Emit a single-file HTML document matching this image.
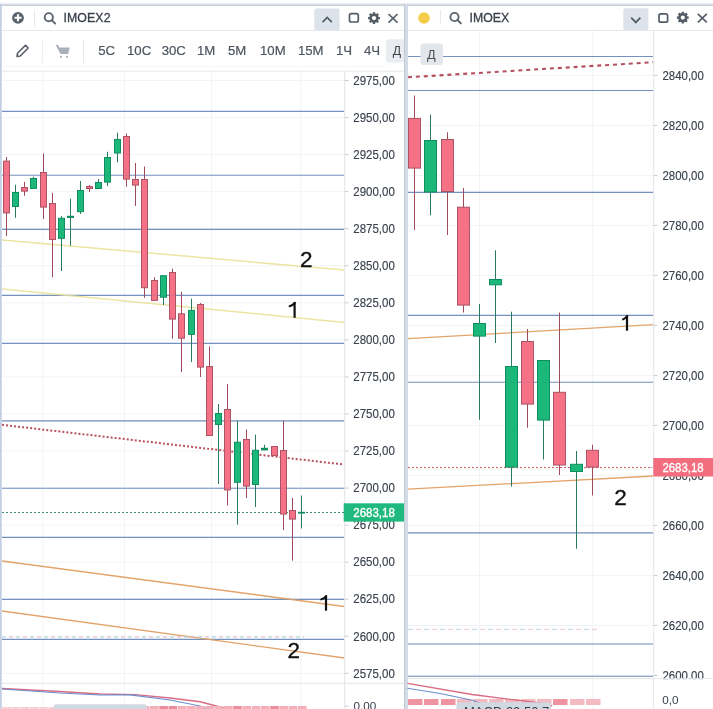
<!DOCTYPE html><html><head><meta charset="utf-8"><style>
html,body{margin:0;padding:0;background:#fff;width:713px;height:709px;overflow:hidden}
svg{display:block;will-change:transform}
text{font-family:"Liberation Sans",sans-serif}
</style></head><body>
<svg width="713" height="709" viewBox="0 0 713 709">
<rect x="0" y="0" width="713" height="709" fill="#fff"/>
<rect x="0" y="3" width="713" height="1" fill="#eceef2"/>
<rect x="0" y="4" width="713" height="1" fill="#d9dee5"/>
<rect x="0" y="5" width="713" height="1" fill="#c9d0d9"/>
<line x1="2" y1="80.5" x2="344.5" y2="80.5" stroke="#f1f3f6" stroke-width="1"/>
<line x1="2" y1="117.55" x2="344.5" y2="117.55" stroke="#f1f3f6" stroke-width="1"/>
<line x1="2" y1="154.6" x2="344.5" y2="154.6" stroke="#f1f3f6" stroke-width="1"/>
<line x1="2" y1="191.64999999999998" x2="344.5" y2="191.64999999999998" stroke="#f1f3f6" stroke-width="1"/>
<line x1="2" y1="228.7" x2="344.5" y2="228.7" stroke="#f1f3f6" stroke-width="1"/>
<line x1="2" y1="265.75" x2="344.5" y2="265.75" stroke="#f1f3f6" stroke-width="1"/>
<line x1="2" y1="302.79999999999995" x2="344.5" y2="302.79999999999995" stroke="#f1f3f6" stroke-width="1"/>
<line x1="2" y1="339.84999999999997" x2="344.5" y2="339.84999999999997" stroke="#f1f3f6" stroke-width="1"/>
<line x1="2" y1="376.9" x2="344.5" y2="376.9" stroke="#f1f3f6" stroke-width="1"/>
<line x1="2" y1="413.95" x2="344.5" y2="413.95" stroke="#f1f3f6" stroke-width="1"/>
<line x1="2" y1="451.0" x2="344.5" y2="451.0" stroke="#f1f3f6" stroke-width="1"/>
<line x1="2" y1="488.04999999999995" x2="344.5" y2="488.04999999999995" stroke="#f1f3f6" stroke-width="1"/>
<line x1="2" y1="525.0999999999999" x2="344.5" y2="525.0999999999999" stroke="#f1f3f6" stroke-width="1"/>
<line x1="2" y1="562.15" x2="344.5" y2="562.15" stroke="#f1f3f6" stroke-width="1"/>
<line x1="2" y1="599.1999999999999" x2="344.5" y2="599.1999999999999" stroke="#f1f3f6" stroke-width="1"/>
<line x1="2" y1="636.25" x2="344.5" y2="636.25" stroke="#f1f3f6" stroke-width="1"/>
<line x1="2" y1="673.3" x2="344.5" y2="673.3" stroke="#f1f3f6" stroke-width="1"/>
<line x1="43" y1="71" x2="43" y2="709" stroke="#f1f3f6" stroke-width="1"/>
<line x1="124.5" y1="71" x2="124.5" y2="709" stroke="#f1f3f6" stroke-width="1"/>
<line x1="211.5" y1="71" x2="211.5" y2="709" stroke="#f1f3f6" stroke-width="1"/>
<line x1="300.7" y1="71" x2="300.7" y2="709" stroke="#f1f3f6" stroke-width="1"/>
<line x1="2" y1="111.3" x2="344.5" y2="111.3" stroke="#7898c6" stroke-width="1.15"/>
<line x1="2" y1="175.2" x2="344.5" y2="175.2" stroke="#7898c6" stroke-width="1.15"/>
<line x1="2" y1="229.4" x2="344.5" y2="229.4" stroke="#7898c6" stroke-width="1.15"/>
<line x1="2" y1="295.3" x2="344.5" y2="295.3" stroke="#7898c6" stroke-width="1.15"/>
<line x1="2" y1="343.4" x2="344.5" y2="343.4" stroke="#7898c6" stroke-width="1.15"/>
<line x1="2" y1="420.8" x2="344.5" y2="420.8" stroke="#7898c6" stroke-width="1.15"/>
<line x1="2" y1="488.2" x2="344.5" y2="488.2" stroke="#7898c6" stroke-width="1.15"/>
<line x1="2" y1="537.4" x2="344.5" y2="537.4" stroke="#7898c6" stroke-width="1.15"/>
<line x1="2" y1="599.3" x2="344.5" y2="599.3" stroke="#7898c6" stroke-width="1.15"/>
<line x1="2" y1="639.4" x2="344.5" y2="639.4" stroke="#7898c6" stroke-width="1.15"/>
<line x1="2" y1="240" x2="344.5" y2="270.1" stroke="#ebe4a2" stroke-width="1.5"/>
<line x1="2" y1="289" x2="344.5" y2="322.4" stroke="#ebe4a2" stroke-width="1.5"/>
<line x1="2" y1="561" x2="344.5" y2="606.5" stroke="#e3a46c" stroke-width="1.3"/>
<line x1="2" y1="611" x2="344.5" y2="658" stroke="#e3a46c" stroke-width="1.3"/>
<line x1="2" y1="637" x2="304" y2="637" stroke="#9fcbd6" stroke-width="1.1" stroke-dasharray="4 10"/>
<line x1="9" y1="637" x2="304" y2="637" stroke="#e2b0c6" stroke-width="1.1" stroke-dasharray="4 10"/>
<line x1="2" y1="424.8" x2="344.5" y2="464.6" stroke="#b9505f" stroke-width="2" stroke-dasharray="2 2.05"/>
<line x1="2" y1="512.5" x2="344.5" y2="512.5" stroke="#3d8a6e" stroke-width="1" stroke-dasharray="2 2"/>
<line x1="6.5" y1="157" x2="6.5" y2="236" stroke="#a04a5c" stroke-width="1"/>
<rect x="3.5" y="161.1" width="6.0" height="51.8" fill="#f47186" stroke="#aa5466" stroke-width="1"/>
<line x1="15.5" y1="184.8" x2="15.5" y2="217.8" stroke="#2a7a62" stroke-width="1"/>
<rect x="12.5" y="192.5" width="6.0" height="14.0" fill="#1bb87a" stroke="#0f8f5f" stroke-width="1"/>
<line x1="24.5" y1="181.8" x2="24.5" y2="195.8" stroke="#a04a5c" stroke-width="1"/>
<rect x="21.5" y="187.5" width="6.0" height="3.6" fill="#f47186" stroke="#aa5466" stroke-width="1"/>
<line x1="33.5" y1="176.7" x2="33.5" y2="188.9" stroke="#2a7a62" stroke-width="1"/>
<rect x="30.5" y="178.5" width="6.0" height="9.9" fill="#1bb87a" stroke="#0f8f5f" stroke-width="1"/>
<line x1="43.5" y1="153.5" x2="43.5" y2="219" stroke="#a04a5c" stroke-width="1"/>
<rect x="40.5" y="172.5" width="6.0" height="34.6" fill="#f47186" stroke="#aa5466" stroke-width="1"/>
<line x1="52.5" y1="192.8" x2="52.5" y2="277.4" stroke="#a04a5c" stroke-width="1"/>
<rect x="49.5" y="203.5" width="6.0" height="36.0" fill="#f47186" stroke="#aa5466" stroke-width="1"/>
<line x1="61.5" y1="216" x2="61.5" y2="271" stroke="#2a7a62" stroke-width="1"/>
<rect x="58.5" y="218.3" width="6.0" height="20.0" fill="#1bb87a" stroke="#0f8f5f" stroke-width="1"/>
<line x1="70.5" y1="198.7" x2="70.5" y2="245.7" stroke="#2a7a62" stroke-width="1"/>
<rect x="67" y="215.8" width="7" height="2.2" fill="#0f8f5f"/>
<line x1="80.5" y1="181" x2="80.5" y2="214" stroke="#2a7a62" stroke-width="1"/>
<rect x="77.5" y="190.5" width="6.0" height="21.2" fill="#1bb87a" stroke="#0f8f5f" stroke-width="1"/>
<line x1="89.5" y1="185" x2="89.5" y2="192" stroke="#a04a5c" stroke-width="1"/>
<rect x="86.5" y="186.5" width="6.0" height="2.0" fill="#f47186" stroke="#aa5466" stroke-width="1"/>
<line x1="98.5" y1="179" x2="98.5" y2="189" stroke="#2a7a62" stroke-width="1"/>
<rect x="95.5" y="182.5" width="6.0" height="6.0" fill="#1bb87a" stroke="#0f8f5f" stroke-width="1"/>
<line x1="107.5" y1="151.8" x2="107.5" y2="186" stroke="#2a7a62" stroke-width="1"/>
<rect x="104.5" y="157.5" width="6.0" height="24.6" fill="#1bb87a" stroke="#0f8f5f" stroke-width="1"/>
<line x1="117.5" y1="132.7" x2="117.5" y2="162.3" stroke="#2a7a62" stroke-width="1"/>
<rect x="114.5" y="139.5" width="6.0" height="13.5" fill="#1bb87a" stroke="#0f8f5f" stroke-width="1"/>
<line x1="126.5" y1="133.5" x2="126.5" y2="186.8" stroke="#a04a5c" stroke-width="1"/>
<rect x="123.5" y="136.5" width="6.0" height="42.6" fill="#f47186" stroke="#aa5466" stroke-width="1"/>
<line x1="135.5" y1="163" x2="135.5" y2="206" stroke="#a04a5c" stroke-width="1"/>
<rect x="132.5" y="179.5" width="6.0" height="5.6" fill="#f47186" stroke="#aa5466" stroke-width="1"/>
<line x1="144.5" y1="166.5" x2="144.5" y2="297.8" stroke="#a04a5c" stroke-width="1"/>
<rect x="141.5" y="179.5" width="6.0" height="108.2" fill="#f47186" stroke="#aa5466" stroke-width="1"/>
<line x1="154.5" y1="277.1" x2="154.5" y2="300.9" stroke="#a04a5c" stroke-width="1"/>
<rect x="151.5" y="280.5" width="6.0" height="19.9" fill="#f47186" stroke="#aa5466" stroke-width="1"/>
<line x1="163.5" y1="275.2" x2="163.5" y2="305" stroke="#2a7a62" stroke-width="1"/>
<rect x="160.5" y="275.7" width="6.0" height="21.5" fill="#1bb87a" stroke="#0f8f5f" stroke-width="1"/>
<line x1="172.5" y1="268.6" x2="172.5" y2="338.7" stroke="#a04a5c" stroke-width="1"/>
<rect x="169.5" y="272.5" width="6.0" height="46.6" fill="#f47186" stroke="#aa5466" stroke-width="1"/>
<line x1="181.5" y1="292" x2="181.5" y2="372" stroke="#a04a5c" stroke-width="1"/>
<rect x="178.5" y="313.8" width="6.0" height="24.4" fill="#f47186" stroke="#aa5466" stroke-width="1"/>
<line x1="191.5" y1="298.7" x2="191.5" y2="362" stroke="#2a7a62" stroke-width="1"/>
<rect x="188.5" y="310.4" width="6.0" height="24.0" fill="#1bb87a" stroke="#0f8f5f" stroke-width="1"/>
<line x1="200.5" y1="303" x2="200.5" y2="377" stroke="#a04a5c" stroke-width="1"/>
<rect x="197.5" y="304.5" width="6.0" height="62.6" fill="#f47186" stroke="#aa5466" stroke-width="1"/>
<line x1="209.5" y1="346.3" x2="209.5" y2="436" stroke="#a04a5c" stroke-width="1"/>
<rect x="206.5" y="366.5" width="6.0" height="69.0" fill="#f47186" stroke="#aa5466" stroke-width="1"/>
<line x1="218.5" y1="404" x2="218.5" y2="484" stroke="#2a7a62" stroke-width="1"/>
<rect x="215.5" y="413.5" width="6.0" height="11.0" fill="#1bb87a" stroke="#0f8f5f" stroke-width="1"/>
<line x1="227.5" y1="384" x2="227.5" y2="505.6" stroke="#a04a5c" stroke-width="1"/>
<rect x="224.5" y="409.5" width="6.0" height="80.4" fill="#f47186" stroke="#aa5466" stroke-width="1"/>
<line x1="237.5" y1="420.6" x2="237.5" y2="524.7" stroke="#2a7a62" stroke-width="1"/>
<rect x="234.5" y="442.2" width="6.0" height="40.1" fill="#1bb87a" stroke="#0f8f5f" stroke-width="1"/>
<line x1="246.5" y1="429.5" x2="246.5" y2="498" stroke="#a04a5c" stroke-width="1"/>
<rect x="243.5" y="439.5" width="6.0" height="46.6" fill="#f47186" stroke="#aa5466" stroke-width="1"/>
<line x1="255.5" y1="434.6" x2="255.5" y2="507" stroke="#2a7a62" stroke-width="1"/>
<rect x="252.5" y="450.3" width="6.0" height="34.2" fill="#1bb87a" stroke="#0f8f5f" stroke-width="1"/>
<line x1="264.5" y1="444.7" x2="264.5" y2="450" stroke="#2a7a62" stroke-width="1"/>
<rect x="261" y="447.8" width="7" height="2.6" fill="#0f8f5f"/>
<line x1="274.5" y1="446" x2="274.5" y2="456" stroke="#a04a5c" stroke-width="1"/>
<rect x="271.5" y="446.5" width="6.0" height="9.0" fill="#f47186" stroke="#aa5466" stroke-width="1"/>
<line x1="283.5" y1="420.6" x2="283.5" y2="530" stroke="#a04a5c" stroke-width="1"/>
<rect x="280.5" y="450.5" width="6.0" height="63.5" fill="#f47186" stroke="#aa5466" stroke-width="1"/>
<line x1="292.5" y1="498" x2="292.5" y2="560.7" stroke="#a04a5c" stroke-width="1"/>
<rect x="289.5" y="510.5" width="6.0" height="8.6" fill="#f47186" stroke="#aa5466" stroke-width="1"/>
<line x1="301.5" y1="495.5" x2="301.5" y2="528.5" stroke="#2a7a62" stroke-width="1"/>
<rect x="298" y="511.8" width="7" height="1.8" fill="#0f8f5f"/>
<line x1="2" y1="111.3" x2="344.5" y2="111.3" stroke="#5a6a80" stroke-width="1.15" opacity="0.12"/>
<line x1="2" y1="175.2" x2="344.5" y2="175.2" stroke="#5a6a80" stroke-width="1.15" opacity="0.12"/>
<line x1="2" y1="229.4" x2="344.5" y2="229.4" stroke="#5a6a80" stroke-width="1.15" opacity="0.12"/>
<line x1="2" y1="295.3" x2="344.5" y2="295.3" stroke="#5a6a80" stroke-width="1.15" opacity="0.12"/>
<line x1="2" y1="343.4" x2="344.5" y2="343.4" stroke="#5a6a80" stroke-width="1.15" opacity="0.12"/>
<line x1="2" y1="420.8" x2="344.5" y2="420.8" stroke="#5a6a80" stroke-width="1.15" opacity="0.12"/>
<line x1="2" y1="488.2" x2="344.5" y2="488.2" stroke="#5a6a80" stroke-width="1.15" opacity="0.12"/>
<line x1="2" y1="537.4" x2="344.5" y2="537.4" stroke="#5a6a80" stroke-width="1.15" opacity="0.12"/>
<line x1="2" y1="599.3" x2="344.5" y2="599.3" stroke="#5a6a80" stroke-width="1.15" opacity="0.12"/>
<line x1="2" y1="639.4" x2="344.5" y2="639.4" stroke="#5a6a80" stroke-width="1.15" opacity="0.12"/>
<text x="300" y="267" font-size="22.5" fill="#111" stroke="#111" stroke-width="0.35">2</text>
<path d="M294.6 302.2 V317.8" stroke="#111" stroke-width="2.2" fill="none"/>
<path d="M294.8 302.8 Q293.0 305.2 289.6 306.2" stroke="#111" stroke-width="2" fill="none" stroke-linecap="round"/>
<path d="M326 595.5 V610.7" stroke="#111" stroke-width="2.2" fill="none"/>
<path d="M326.2 596.1 Q324.4 598.5 321.2 599.4" stroke="#111" stroke-width="2" fill="none" stroke-linecap="round"/>
<text x="287.5" y="658" font-size="22.5" fill="#111" stroke="#111" stroke-width="0.35">2</text>
<line x1="2" y1="683.3" x2="404" y2="683.3" stroke="#e3e6ea" stroke-width="1"/>
<polyline points="2,688.5 60,691.5 100,694 135,694.6 170,698 200,701.7 222,707.5 235,710" fill="none" stroke="#d96b84" stroke-width="1.4"/>
<polyline points="2,689 60,693 100,695 130,694.8 170,700 200,706 210,710" fill="none" stroke="#6a8fd0" stroke-width="1.2"/>
<rect x="2.2" y="707" width="8.6" height="2" fill="#f7d0d6"/>
<rect x="11.4" y="707" width="8.6" height="2" fill="#f7d0d6"/>
<rect x="20.7" y="707" width="8.6" height="2" fill="#f7d0d6"/>
<rect x="29.9" y="707" width="8.6" height="2" fill="#f7d0d6"/>
<rect x="39.2" y="707" width="8.6" height="2" fill="#f7d0d6"/>
<rect x="48.4" y="707" width="8.6" height="2" fill="#f7d0d6"/>
<rect x="57.6" y="706" width="8.6" height="3" fill="#f3b0ba"/>
<rect x="66.9" y="706" width="8.6" height="3" fill="#f3b0ba"/>
<rect x="76.1" y="706" width="8.6" height="3" fill="#f3b0ba"/>
<rect x="85.4" y="706" width="8.6" height="3" fill="#f3b0ba"/>
<rect x="94.6" y="706" width="8.6" height="3" fill="#f3b0ba"/>
<rect x="103.8" y="706" width="8.6" height="3" fill="#f3b0ba"/>
<rect x="113.1" y="706" width="8.6" height="3" fill="#f3b0ba"/>
<rect x="122.3" y="706" width="8.6" height="3" fill="#f3b0ba"/>
<rect x="131.6" y="706" width="8.6" height="3" fill="#f3b0ba"/>
<rect x="140.8" y="706" width="8.6" height="3" fill="#f3b0ba"/>
<rect x="150.0" y="706" width="8.6" height="3" fill="#f3b0ba"/>
<rect x="159.3" y="706" width="8.6" height="3" fill="#ee8d9a"/>
<rect x="168.5" y="706" width="8.6" height="3" fill="#ee8d9a"/>
<rect x="177.8" y="706" width="8.6" height="3" fill="#f3b0ba"/>
<rect x="187.0" y="706" width="8.6" height="3" fill="#f3b0ba"/>
<rect x="196.2" y="706" width="8.6" height="3" fill="#f3b0ba"/>
<rect x="205.5" y="706" width="8.6" height="3" fill="#f3b0ba"/>
<rect x="214.7" y="706" width="8.6" height="3" fill="#f3b0ba"/>
<rect x="224.0" y="706" width="8.6" height="3" fill="#f3b0ba"/>
<rect x="233.2" y="706" width="8.6" height="3" fill="#ee8d9a"/>
<rect x="242.4" y="706" width="8.6" height="3" fill="#f3b0ba"/>
<rect x="251.7" y="706" width="8.6" height="3" fill="#f3b0ba"/>
<rect x="260.9" y="706" width="8.6" height="3" fill="#f3b0ba"/>
<rect x="270.2" y="706" width="8.6" height="3" fill="#ee8d9a"/>
<rect x="279.4" y="706" width="8.6" height="3" fill="#f3b0ba"/>
<rect x="288.6" y="706" width="8.6" height="3" fill="#f3b0ba"/>
<rect x="297.9" y="706" width="8.6" height="3" fill="#f3b0ba"/>
<rect x="53.5" y="704.3" width="93.4" height="10" rx="3" fill="#d0d8e1"/>
<text x="61" y="717.5" font-size="13" fill="#333a44">MACD 20 50 7</text>
<rect x="344.5" y="71" width="59.5" height="638" fill="#fff"/>
<line x1="344.7" y1="71" x2="344.7" y2="709" stroke="#e1e5ea" stroke-width="1"/>
<line x1="344.7" y1="683.3" x2="404" y2="683.3" stroke="#e3e6ea" stroke-width="1"/>
<line x1="344.7" y1="80.5" x2="348.5" y2="80.5" stroke="#c8cdd4" stroke-width="1"/>
<text x="353.3" y="84.7" font-size="12.6" textLength="41.5" lengthAdjust="spacingAndGlyphs" fill="#3a424d" stroke="#3a424d" stroke-width="0.15">2975,00</text>
<line x1="344.7" y1="117.55" x2="348.5" y2="117.55" stroke="#c8cdd4" stroke-width="1"/>
<text x="353.3" y="121.8" font-size="12.6" textLength="41.5" lengthAdjust="spacingAndGlyphs" fill="#3a424d" stroke="#3a424d" stroke-width="0.15">2950,00</text>
<line x1="344.7" y1="154.6" x2="348.5" y2="154.6" stroke="#c8cdd4" stroke-width="1"/>
<text x="353.3" y="158.8" font-size="12.6" textLength="41.5" lengthAdjust="spacingAndGlyphs" fill="#3a424d" stroke="#3a424d" stroke-width="0.15">2925,00</text>
<line x1="344.7" y1="191.64999999999998" x2="348.5" y2="191.64999999999998" stroke="#c8cdd4" stroke-width="1"/>
<text x="353.3" y="195.8" font-size="12.6" textLength="41.5" lengthAdjust="spacingAndGlyphs" fill="#3a424d" stroke="#3a424d" stroke-width="0.15">2900,00</text>
<line x1="344.7" y1="228.7" x2="348.5" y2="228.7" stroke="#c8cdd4" stroke-width="1"/>
<text x="353.3" y="232.9" font-size="12.6" textLength="41.5" lengthAdjust="spacingAndGlyphs" fill="#3a424d" stroke="#3a424d" stroke-width="0.15">2875,00</text>
<line x1="344.7" y1="265.75" x2="348.5" y2="265.75" stroke="#c8cdd4" stroke-width="1"/>
<text x="353.3" y="269.9" font-size="12.6" textLength="41.5" lengthAdjust="spacingAndGlyphs" fill="#3a424d" stroke="#3a424d" stroke-width="0.15">2850,00</text>
<line x1="344.7" y1="302.79999999999995" x2="348.5" y2="302.79999999999995" stroke="#c8cdd4" stroke-width="1"/>
<text x="353.3" y="307.0" font-size="12.6" textLength="41.5" lengthAdjust="spacingAndGlyphs" fill="#3a424d" stroke="#3a424d" stroke-width="0.15">2825,00</text>
<line x1="344.7" y1="339.84999999999997" x2="348.5" y2="339.84999999999997" stroke="#c8cdd4" stroke-width="1"/>
<text x="353.3" y="344.0" font-size="12.6" textLength="41.5" lengthAdjust="spacingAndGlyphs" fill="#3a424d" stroke="#3a424d" stroke-width="0.15">2800,00</text>
<line x1="344.7" y1="376.9" x2="348.5" y2="376.9" stroke="#c8cdd4" stroke-width="1"/>
<text x="353.3" y="381.1" font-size="12.6" textLength="41.5" lengthAdjust="spacingAndGlyphs" fill="#3a424d" stroke="#3a424d" stroke-width="0.15">2775,00</text>
<line x1="344.7" y1="413.95" x2="348.5" y2="413.95" stroke="#c8cdd4" stroke-width="1"/>
<text x="353.3" y="418.1" font-size="12.6" textLength="41.5" lengthAdjust="spacingAndGlyphs" fill="#3a424d" stroke="#3a424d" stroke-width="0.15">2750,00</text>
<line x1="344.7" y1="451.0" x2="348.5" y2="451.0" stroke="#c8cdd4" stroke-width="1"/>
<text x="353.3" y="455.2" font-size="12.6" textLength="41.5" lengthAdjust="spacingAndGlyphs" fill="#3a424d" stroke="#3a424d" stroke-width="0.15">2725,00</text>
<line x1="344.7" y1="488.04999999999995" x2="348.5" y2="488.04999999999995" stroke="#c8cdd4" stroke-width="1"/>
<text x="353.3" y="492.2" font-size="12.6" textLength="41.5" lengthAdjust="spacingAndGlyphs" fill="#3a424d" stroke="#3a424d" stroke-width="0.15">2700,00</text>
<line x1="344.7" y1="525.0999999999999" x2="348.5" y2="525.0999999999999" stroke="#c8cdd4" stroke-width="1"/>
<text x="353.3" y="529.3" font-size="12.6" textLength="41.5" lengthAdjust="spacingAndGlyphs" fill="#3a424d" stroke="#3a424d" stroke-width="0.15">2675,00</text>
<line x1="344.7" y1="562.15" x2="348.5" y2="562.15" stroke="#c8cdd4" stroke-width="1"/>
<text x="353.3" y="566.4" font-size="12.6" textLength="41.5" lengthAdjust="spacingAndGlyphs" fill="#3a424d" stroke="#3a424d" stroke-width="0.15">2650,00</text>
<line x1="344.7" y1="599.1999999999999" x2="348.5" y2="599.1999999999999" stroke="#c8cdd4" stroke-width="1"/>
<text x="353.3" y="603.4" font-size="12.6" textLength="41.5" lengthAdjust="spacingAndGlyphs" fill="#3a424d" stroke="#3a424d" stroke-width="0.15">2625,00</text>
<line x1="344.7" y1="636.25" x2="348.5" y2="636.25" stroke="#c8cdd4" stroke-width="1"/>
<text x="353.3" y="640.5" font-size="12.6" textLength="41.5" lengthAdjust="spacingAndGlyphs" fill="#3a424d" stroke="#3a424d" stroke-width="0.15">2600,00</text>
<line x1="344.7" y1="673.3" x2="348.5" y2="673.3" stroke="#c8cdd4" stroke-width="1"/>
<text x="353.3" y="677.5" font-size="12.6" textLength="41.5" lengthAdjust="spacingAndGlyphs" fill="#3a424d" stroke="#3a424d" stroke-width="0.15">2575,00</text>
<line x1="344.7" y1="706" x2="348.5" y2="706" stroke="#c8cdd4" stroke-width="1"/>
<text x="353.4" y="710.2" font-size="11.7" fill="#3a424d">0,00</text>
<rect x="343.7" y="503.3" width="60.5" height="18.3" fill="#1fb97d"/>
<text x="353.3" y="516.8" font-size="12.6" textLength="41.5" lengthAdjust="spacingAndGlyphs" fill="#fff" stroke="#fff" stroke-width="0.35">2683,18</text>
<rect x="2" y="6" width="402" height="24" fill="#fff"/>
<line x1="2" y1="30.4" x2="404" y2="30.4" stroke="#e4e7eb" stroke-width="1"/>
<rect x="2" y="31" width="402" height="40" fill="#fff"/>
<line x1="2" y1="71.2" x2="404" y2="71.2" stroke="#e4e7eb" stroke-width="1"/>
<circle cx="18" cy="17.8" r="5.9" fill="#59636e"/>
<path d="M18 14.3v7M14.5 17.8h7" stroke="#fff" stroke-width="2.1"/>
<line x1="34.5" y1="10.6" x2="34.5" y2="26.8" stroke="#e6e8ec" stroke-width="1"/>
<circle cx="48.8" cy="17.2" r="4.1" fill="none" stroke="#5a636e" stroke-width="1.9"/>
<path d="M51.8 20.2l3.4 3.4" stroke="#5a636e" stroke-width="1.9" stroke-linecap="round"/>
<text x="63.5" y="22" font-size="12.3" fill="#3a414b" stroke="#3a414b" stroke-width="0.3" style="letter-spacing:0.1px">IMOEX2</text>
<rect x="314.3" y="8.4" width="25.3" height="22" rx="2" fill="#dde3ea"/>
<path d="M322.6 22.2l4.6-4.8 4.6 4.8" fill="none" stroke="#545c67" stroke-width="1.7"/>
<rect x="349.5" y="13.6" width="8.8" height="8.4" rx="1.8" fill="none" stroke="#545c67" stroke-width="1.7"/>
<circle cx="374" cy="18.1" r="3.4" fill="none" stroke="#545c67" stroke-width="2.6"/>
<line x1="377.50" y1="18.10" x2="379.90" y2="18.10" stroke="#545c67" stroke-width="2.3"/>
<line x1="376.47" y1="20.57" x2="378.17" y2="22.27" stroke="#545c67" stroke-width="2.3"/>
<line x1="374.00" y1="21.60" x2="374.00" y2="24.00" stroke="#545c67" stroke-width="2.3"/>
<line x1="371.53" y1="20.57" x2="369.83" y2="22.27" stroke="#545c67" stroke-width="2.3"/>
<line x1="370.50" y1="18.10" x2="368.10" y2="18.10" stroke="#545c67" stroke-width="2.3"/>
<line x1="371.53" y1="15.63" x2="369.83" y2="13.93" stroke="#545c67" stroke-width="2.3"/>
<line x1="374.00" y1="14.60" x2="374.00" y2="12.20" stroke="#545c67" stroke-width="2.3"/>
<line x1="376.47" y1="15.63" x2="378.17" y2="13.93" stroke="#545c67" stroke-width="2.3"/>
<path d="M388.5 14l9 8.6M397.5 14l-9 8.6" stroke="#545c67" stroke-width="1.6"/>
<path d="M17 56.5l0.5-3.2 8-8 2.7 2.7-8 8z" fill="none" stroke="#545c67" stroke-width="1.6" stroke-linejoin="round"/>
<line x1="42.3" y1="40" x2="42.3" y2="63.5" stroke="#e6e8ec" stroke-width="1"/>
<path d="M55.5 44.8h2.3l1.6 2.6h10.3l-1.5 6.6h-7.6z" fill="#a9b0b9"/>
<circle cx="61" cy="56.8" r="1.1" fill="#a9b0b9"/><circle cx="67" cy="56.8" r="1.1" fill="#a9b0b9"/>
<line x1="83.5" y1="40" x2="83.5" y2="63.5" stroke="#e6e8ec" stroke-width="1"/>
<text x="98.2" y="54.9" font-size="13.2" fill="#4e5660" stroke="#4e5660" stroke-width="0.2">5C</text>
<text x="127" y="54.9" font-size="13.2" fill="#4e5660" stroke="#4e5660" stroke-width="0.2">10C</text>
<text x="161.7" y="54.9" font-size="13.2" fill="#4e5660" stroke="#4e5660" stroke-width="0.2">30C</text>
<text x="197" y="54.9" font-size="13.2" fill="#4e5660" stroke="#4e5660" stroke-width="0.2">1M</text>
<text x="228" y="54.9" font-size="13.2" fill="#4e5660" stroke="#4e5660" stroke-width="0.2">5M</text>
<text x="260" y="54.9" font-size="13.2" fill="#4e5660" stroke="#4e5660" stroke-width="0.2">10M</text>
<text x="297.9" y="54.9" font-size="13.2" fill="#4e5660" stroke="#4e5660" stroke-width="0.2">15M</text>
<text x="336" y="54.9" font-size="13.2" fill="#4e5660" stroke="#4e5660" stroke-width="0.2">1Ч</text>
<text x="364" y="54.9" font-size="13.2" fill="#4e5660" stroke="#4e5660" stroke-width="0.2">4Ч</text>
<rect x="386" y="39.2" width="18" height="23.2" rx="2" fill="#e9ecf0"/>
<text x="392.8" y="55.2" font-size="12.3" fill="#3f4650">Д</text>
<line x1="2" y1="66.3" x2="386" y2="66.3" stroke="#f3f4f6" stroke-width="1"/>
<rect x="0" y="4" width="1.8" height="705" fill="#c3d0e4"/>
<rect x="404" y="4" width="4" height="705" fill="#d2dbe6"/>
<rect x="404" y="4" width="1" height="705" fill="#c0cad6"/>
<line x1="408" y1="75.4" x2="653.5" y2="75.4" stroke="#f1f3f6" stroke-width="1"/>
<line x1="408" y1="125.4" x2="653.5" y2="125.4" stroke="#f1f3f6" stroke-width="1"/>
<line x1="408" y1="175.4" x2="653.5" y2="175.4" stroke="#f1f3f6" stroke-width="1"/>
<line x1="408" y1="225.4" x2="653.5" y2="225.4" stroke="#f1f3f6" stroke-width="1"/>
<line x1="408" y1="275.4" x2="653.5" y2="275.4" stroke="#f1f3f6" stroke-width="1"/>
<line x1="408" y1="325.4" x2="653.5" y2="325.4" stroke="#f1f3f6" stroke-width="1"/>
<line x1="408" y1="375.4" x2="653.5" y2="375.4" stroke="#f1f3f6" stroke-width="1"/>
<line x1="408" y1="425.4" x2="653.5" y2="425.4" stroke="#f1f3f6" stroke-width="1"/>
<line x1="408" y1="475.4" x2="653.5" y2="475.4" stroke="#f1f3f6" stroke-width="1"/>
<line x1="408" y1="525.4" x2="653.5" y2="525.4" stroke="#f1f3f6" stroke-width="1"/>
<line x1="408" y1="575.4" x2="653.5" y2="575.4" stroke="#f1f3f6" stroke-width="1"/>
<line x1="408" y1="625.4" x2="653.5" y2="625.4" stroke="#f1f3f6" stroke-width="1"/>
<line x1="408" y1="675.4" x2="653.5" y2="675.4" stroke="#f1f3f6" stroke-width="1"/>
<line x1="479.5" y1="30.5" x2="479.5" y2="709" stroke="#f1f3f6" stroke-width="1"/>
<line x1="592.8" y1="30.5" x2="592.8" y2="709" stroke="#f1f3f6" stroke-width="1"/>
<line x1="408" y1="56.5" x2="653.5" y2="56.5" stroke="#7898c6" stroke-width="1.15"/>
<line x1="408" y1="90.5" x2="653.5" y2="90.5" stroke="#7898c6" stroke-width="1.15"/>
<line x1="408" y1="192.3" x2="653.5" y2="192.3" stroke="#7898c6" stroke-width="1.15"/>
<line x1="408" y1="315.4" x2="653.5" y2="315.4" stroke="#7898c6" stroke-width="1.15"/>
<line x1="408" y1="382.2" x2="653.5" y2="382.2" stroke="#7898c6" stroke-width="1.15"/>
<line x1="408" y1="532.8" x2="653.5" y2="532.8" stroke="#7898c6" stroke-width="1.15"/>
<line x1="408" y1="644" x2="653.5" y2="644" stroke="#7898c6" stroke-width="1.15"/>
<line x1="408" y1="676.2" x2="653.5" y2="676.2" stroke="#7898c6" stroke-width="1.15"/>
<line x1="408" y1="77.3" x2="653.5" y2="62.2" stroke="#b4505f" stroke-width="2.1" stroke-dasharray="4 3.9"/>
<line x1="408" y1="338.6" x2="653.5" y2="324.7" stroke="#e3a46c" stroke-width="1.3"/>
<line x1="408" y1="489.2" x2="653.5" y2="476" stroke="#e3a46c" stroke-width="1.3"/>
<line x1="408" y1="467.6" x2="653.5" y2="467.6" stroke="#d0505e" stroke-width="1" stroke-dasharray="2 2"/>
<line x1="408" y1="629.3" x2="600" y2="629.3" stroke="#b5d6df" stroke-width="1" stroke-dasharray="5 11"/>
<line x1="416" y1="629.3" x2="600" y2="629.3" stroke="#ecc4d4" stroke-width="1" stroke-dasharray="5 11"/>
<line x1="414.5" y1="95.5" x2="414.5" y2="230" stroke="#a04a5c" stroke-width="1"/>
<rect x="408.5" y="118.4" width="12.0" height="49.7" fill="#f47186" stroke="#aa5466" stroke-width="1"/>
<line x1="430.5" y1="114.6" x2="430.5" y2="215.3" stroke="#2a7a62" stroke-width="1"/>
<rect x="424.5" y="140.5" width="12.0" height="51.5" fill="#1bb87a" stroke="#0f8f5f" stroke-width="1"/>
<line x1="447.5" y1="132.3" x2="447.5" y2="235" stroke="#a04a5c" stroke-width="1"/>
<rect x="441.5" y="139.5" width="12.0" height="52.0" fill="#f47186" stroke="#aa5466" stroke-width="1"/>
<line x1="463.5" y1="188" x2="463.5" y2="312.5" stroke="#a04a5c" stroke-width="1"/>
<rect x="457.5" y="207.2" width="12.0" height="97.9" fill="#f47186" stroke="#aa5466" stroke-width="1"/>
<line x1="479.5" y1="304" x2="479.5" y2="419.8" stroke="#2a7a62" stroke-width="1"/>
<rect x="473.5" y="323.5" width="12.0" height="12.6" fill="#1bb87a" stroke="#0f8f5f" stroke-width="1"/>
<line x1="495.5" y1="250.3" x2="495.5" y2="343" stroke="#2a7a62" stroke-width="1"/>
<rect x="489.5" y="279.5" width="12.0" height="5.3" fill="#1bb87a" stroke="#0f8f5f" stroke-width="1"/>
<line x1="511.5" y1="311.7" x2="511.5" y2="486.6" stroke="#2a7a62" stroke-width="1"/>
<rect x="505.5" y="366.5" width="12.0" height="100.6" fill="#1bb87a" stroke="#0f8f5f" stroke-width="1"/>
<line x1="527.5" y1="329" x2="527.5" y2="427.7" stroke="#a04a5c" stroke-width="1"/>
<rect x="521.5" y="341.5" width="12.0" height="62.6" fill="#f47186" stroke="#aa5466" stroke-width="1"/>
<line x1="543.5" y1="360" x2="543.5" y2="459.5" stroke="#2a7a62" stroke-width="1"/>
<rect x="537.5" y="360.5" width="12.0" height="59.6" fill="#1bb87a" stroke="#0f8f5f" stroke-width="1"/>
<line x1="559.5" y1="312.5" x2="559.5" y2="475" stroke="#a04a5c" stroke-width="1"/>
<rect x="553.5" y="392.3" width="12.0" height="72.7" fill="#f47186" stroke="#aa5466" stroke-width="1"/>
<line x1="576.5" y1="451" x2="576.5" y2="548.8" stroke="#2a7a62" stroke-width="1"/>
<rect x="570.5" y="464.3" width="12.0" height="7.2" fill="#1bb87a" stroke="#0f8f5f" stroke-width="1"/>
<line x1="592.5" y1="444.7" x2="592.5" y2="495.5" stroke="#a04a5c" stroke-width="1"/>
<rect x="586.5" y="450.3" width="12.0" height="16.8" fill="#f47186" stroke="#aa5466" stroke-width="1"/>
<line x1="408" y1="56.5" x2="653.5" y2="56.5" stroke="#5a6a80" stroke-width="1.15" opacity="0.12"/>
<line x1="408" y1="90.5" x2="653.5" y2="90.5" stroke="#5a6a80" stroke-width="1.15" opacity="0.12"/>
<line x1="408" y1="192.3" x2="653.5" y2="192.3" stroke="#5a6a80" stroke-width="1.15" opacity="0.12"/>
<line x1="408" y1="315.4" x2="653.5" y2="315.4" stroke="#5a6a80" stroke-width="1.15" opacity="0.12"/>
<line x1="408" y1="382.2" x2="653.5" y2="382.2" stroke="#5a6a80" stroke-width="1.15" opacity="0.12"/>
<line x1="408" y1="532.8" x2="653.5" y2="532.8" stroke="#5a6a80" stroke-width="1.15" opacity="0.12"/>
<line x1="408" y1="644" x2="653.5" y2="644" stroke="#5a6a80" stroke-width="1.15" opacity="0.12"/>
<line x1="408" y1="676.2" x2="653.5" y2="676.2" stroke="#5a6a80" stroke-width="1.15" opacity="0.12"/>
<path d="M627 315.4 V330.7" stroke="#111" stroke-width="2.2" fill="none"/>
<path d="M627.2 316.0 Q625.4 318.4 623 319.4" stroke="#111" stroke-width="2" fill="none" stroke-linecap="round"/>
<text x="614.2" y="504.7" font-size="22.5" fill="#111" stroke="#111" stroke-width="0.35">2</text>
<line x1="408" y1="678.7" x2="713" y2="678.7" stroke="#e3e6ea" stroke-width="1"/>
<rect x="408" y="699" width="14.5" height="6" fill="#ee94a0"/>
<rect x="424" y="699" width="14.5" height="6" fill="#ee94a0"/>
<rect x="441" y="699" width="14.5" height="6" fill="#ee94a0"/>
<rect x="457" y="699" width="14.5" height="6" fill="#f4bac2"/>
<rect x="473" y="699" width="14.5" height="6" fill="#f4bac2"/>
<rect x="489" y="699" width="14.5" height="6" fill="#f4bac2"/>
<rect x="505" y="699" width="14.5" height="6" fill="#f4bac2"/>
<rect x="521" y="699" width="14.5" height="6" fill="#f4bac2"/>
<rect x="537" y="699" width="14.5" height="6" fill="#f4bac2"/>
<rect x="553" y="699" width="14.5" height="6" fill="#ee94a0"/>
<rect x="570" y="699" width="14.5" height="6" fill="#f4bac2"/>
<rect x="586" y="699" width="14.5" height="6" fill="#f4bac2"/>
<polyline points="407.5,683.4 472,694.5 517,700.2 540,703 552,706" fill="none" stroke="#d96b84" stroke-width="1.3"/>
<polyline points="407.5,688.3 440,693.5 472.3,700.2 495,709" fill="none" stroke="#6a8fd0" stroke-width="1.1"/>
<rect x="456.4" y="702.3" width="94.6" height="12" rx="3" fill="#d0d8e1"/>
<text x="464" y="715.6" font-size="13" fill="#333a44">MACD 20 50 7</text>
<rect x="653.5" y="30.5" width="59.5" height="678.5" fill="#fff"/>
<line x1="653.7" y1="30.5" x2="653.7" y2="709" stroke="#e1e5ea" stroke-width="1"/>
<line x1="653.7" y1="75.4" x2="657.5" y2="75.4" stroke="#c8cdd4" stroke-width="1"/>
<text x="662.5" y="79.7" font-size="12.6" textLength="41.3" lengthAdjust="spacingAndGlyphs" fill="#3a424d" stroke="#3a424d" stroke-width="0.15">2840,00</text>
<line x1="653.7" y1="125.4" x2="657.5" y2="125.4" stroke="#c8cdd4" stroke-width="1"/>
<text x="662.5" y="129.7" font-size="12.6" textLength="41.3" lengthAdjust="spacingAndGlyphs" fill="#3a424d" stroke="#3a424d" stroke-width="0.15">2820,00</text>
<line x1="653.7" y1="175.4" x2="657.5" y2="175.4" stroke="#c8cdd4" stroke-width="1"/>
<text x="662.5" y="179.7" font-size="12.6" textLength="41.3" lengthAdjust="spacingAndGlyphs" fill="#3a424d" stroke="#3a424d" stroke-width="0.15">2800,00</text>
<line x1="653.7" y1="225.4" x2="657.5" y2="225.4" stroke="#c8cdd4" stroke-width="1"/>
<text x="662.5" y="229.7" font-size="12.6" textLength="41.3" lengthAdjust="spacingAndGlyphs" fill="#3a424d" stroke="#3a424d" stroke-width="0.15">2780,00</text>
<line x1="653.7" y1="275.4" x2="657.5" y2="275.4" stroke="#c8cdd4" stroke-width="1"/>
<text x="662.5" y="279.7" font-size="12.6" textLength="41.3" lengthAdjust="spacingAndGlyphs" fill="#3a424d" stroke="#3a424d" stroke-width="0.15">2760,00</text>
<line x1="653.7" y1="325.4" x2="657.5" y2="325.4" stroke="#c8cdd4" stroke-width="1"/>
<text x="662.5" y="329.7" font-size="12.6" textLength="41.3" lengthAdjust="spacingAndGlyphs" fill="#3a424d" stroke="#3a424d" stroke-width="0.15">2740,00</text>
<line x1="653.7" y1="375.4" x2="657.5" y2="375.4" stroke="#c8cdd4" stroke-width="1"/>
<text x="662.5" y="379.7" font-size="12.6" textLength="41.3" lengthAdjust="spacingAndGlyphs" fill="#3a424d" stroke="#3a424d" stroke-width="0.15">2720,00</text>
<line x1="653.7" y1="425.4" x2="657.5" y2="425.4" stroke="#c8cdd4" stroke-width="1"/>
<text x="662.5" y="429.7" font-size="12.6" textLength="41.3" lengthAdjust="spacingAndGlyphs" fill="#3a424d" stroke="#3a424d" stroke-width="0.15">2700,00</text>
<line x1="653.7" y1="475.4" x2="657.5" y2="475.4" stroke="#c8cdd4" stroke-width="1"/>
<text x="662.5" y="479.7" font-size="12.6" textLength="41.3" lengthAdjust="spacingAndGlyphs" fill="#3a424d" stroke="#3a424d" stroke-width="0.15">2680,00</text>
<line x1="653.7" y1="525.4" x2="657.5" y2="525.4" stroke="#c8cdd4" stroke-width="1"/>
<text x="662.5" y="529.7" font-size="12.6" textLength="41.3" lengthAdjust="spacingAndGlyphs" fill="#3a424d" stroke="#3a424d" stroke-width="0.15">2660,00</text>
<line x1="653.7" y1="575.4" x2="657.5" y2="575.4" stroke="#c8cdd4" stroke-width="1"/>
<text x="662.5" y="579.7" font-size="12.6" textLength="41.3" lengthAdjust="spacingAndGlyphs" fill="#3a424d" stroke="#3a424d" stroke-width="0.15">2640,00</text>
<line x1="653.7" y1="625.4" x2="657.5" y2="625.4" stroke="#c8cdd4" stroke-width="1"/>
<text x="662.5" y="629.7" font-size="12.6" textLength="41.3" lengthAdjust="spacingAndGlyphs" fill="#3a424d" stroke="#3a424d" stroke-width="0.15">2620,00</text>
<line x1="653.7" y1="675.4" x2="657.5" y2="675.4" stroke="#c8cdd4" stroke-width="1"/>
<text x="662.5" y="679.7" font-size="12.6" textLength="41.3" lengthAdjust="spacingAndGlyphs" fill="#3a424d" stroke="#3a424d" stroke-width="0.15">2600,00</text>
<line x1="653.7" y1="678.7" x2="713" y2="678.7" stroke="#e3e6ea" stroke-width="1"/>
<rect x="654" y="679.2" width="59" height="30" fill="#fff"/>
<text x="662.2" y="703.7" font-size="11.7" fill="#3a424d">0,0</text>
<rect x="653.3" y="458" width="59.7" height="18.5" fill="#f26d7e"/>
<line x1="649.5" y1="467.3" x2="653.5" y2="467.3" stroke="#c8cdd4" stroke-width="1"/>
<text x="662.4" y="471.7" font-size="12.6" textLength="41.3" lengthAdjust="spacingAndGlyphs" fill="#fff" stroke="#fff" stroke-width="0.35">2683,18</text>
<rect x="408" y="6" width="305" height="24" fill="#fff"/>
<line x1="408" y1="30.4" x2="713" y2="30.4" stroke="#e4e7eb" stroke-width="1"/>
<circle cx="424" cy="18" r="5.8" fill="#f4cd4a"/>
<line x1="440.4" y1="10" x2="440.4" y2="24.7" stroke="#e6e8ec" stroke-width="1"/>
<circle cx="454.5" cy="17" r="4.1" fill="none" stroke="#5a636e" stroke-width="1.9"/>
<path d="M457.5 20l3.4 3.4" stroke="#5a636e" stroke-width="1.9" stroke-linecap="round"/>
<text x="469.6" y="22.2" font-size="12.3" fill="#3a414b" stroke="#3a414b" stroke-width="0.3">IMOEX</text>
<rect x="623.3" y="8.2" width="25.1" height="22" rx="2" fill="#dde3ea"/>
<path d="M631.2 17.6l4.6 4.8 4.6-4.8" fill="none" stroke="#545c67" stroke-width="1.7"/>
<rect x="659" y="13.8" width="8.6" height="8.4" rx="1.8" fill="none" stroke="#545c67" stroke-width="1.7"/>
<circle cx="682.8" cy="17.6" r="3.4" fill="none" stroke="#545c67" stroke-width="2.6"/>
<line x1="686.30" y1="17.60" x2="688.70" y2="17.60" stroke="#545c67" stroke-width="2.3"/>
<line x1="685.27" y1="20.07" x2="686.97" y2="21.77" stroke="#545c67" stroke-width="2.3"/>
<line x1="682.80" y1="21.10" x2="682.80" y2="23.50" stroke="#545c67" stroke-width="2.3"/>
<line x1="680.33" y1="20.07" x2="678.63" y2="21.77" stroke="#545c67" stroke-width="2.3"/>
<line x1="679.30" y1="17.60" x2="676.90" y2="17.60" stroke="#545c67" stroke-width="2.3"/>
<line x1="680.33" y1="15.13" x2="678.63" y2="13.43" stroke="#545c67" stroke-width="2.3"/>
<line x1="682.80" y1="14.10" x2="682.80" y2="11.70" stroke="#545c67" stroke-width="2.3"/>
<line x1="685.27" y1="15.13" x2="686.97" y2="13.43" stroke="#545c67" stroke-width="2.3"/>
<path d="M697.8 13.8l9 8.6M706.8 13.8l-9 8.6" stroke="#545c67" stroke-width="1.6"/>
<rect x="420.5" y="43.5" width="22.5" height="21.5" rx="3" fill="#e3e7ec"/>
<text x="427" y="59" font-size="12.8" fill="#4a525e">Д</text>
</svg></body></html>
